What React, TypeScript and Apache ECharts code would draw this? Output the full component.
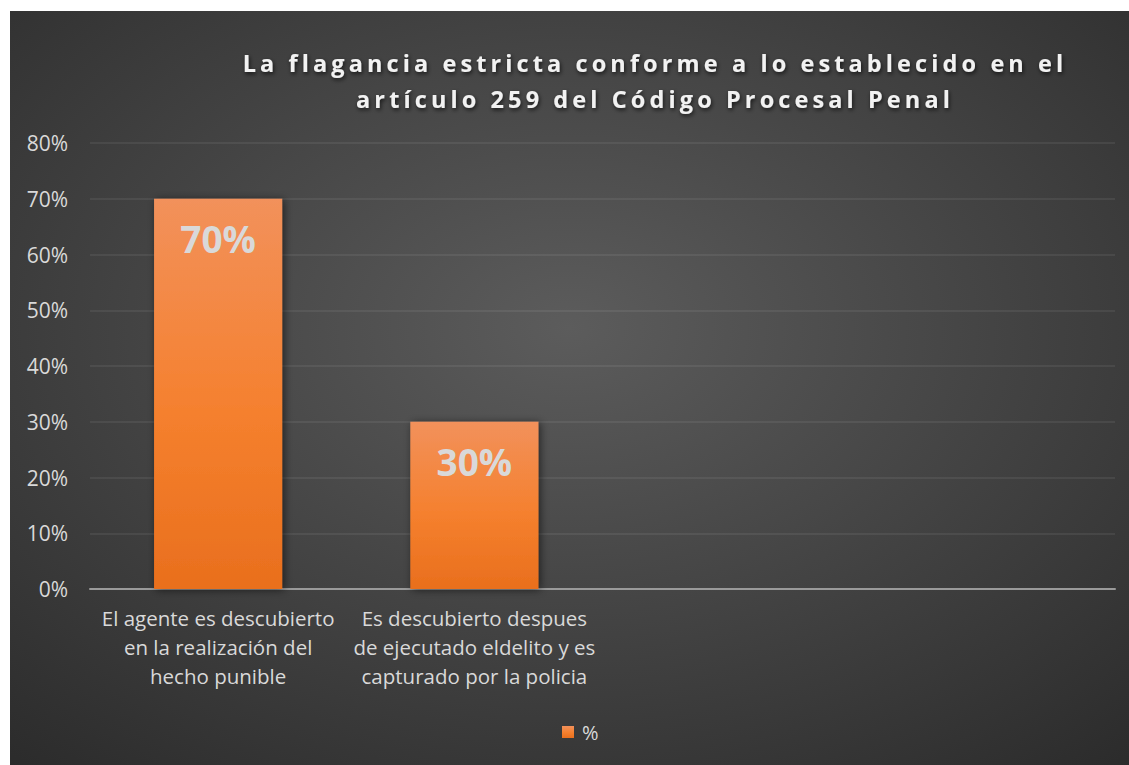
import React, { useEffect, useRef } from "react";
import * as echarts from "echarts";

const titleLines = [
  "La flagancia estricta conforme a lo establecido en el",
  "artículo 259 del Código Procesal Penal",
];
const categories = [
  "El agente es descubierto\nen la realización del\nhecho punible",
  "Es descubierto despues\nde ejecutado eldelito y es\ncapturado por la policia",
  "",
  "",
];
const seriesName = "%";
const values: (number | null)[] = [70, 30, null, null];
const yMin = 0;
const yMax = 80;
const yStep = 10;

const FONT = "'Open Sans', 'Noto Sans', sans-serif";

export default function App() {
  const ref = useRef<HTMLDivElement>(null);
  useEffect(() => {
    if (!ref.current) return;
    const chart = echarts.init(ref.current, undefined, { renderer: "svg" });
    chart.setOption({
      animation: false,
      backgroundColor: {
        type: "radial",
        x: 0.5,
        y: 0.42,
        r: 0.85,
        colorStops: [
          { offset: 0, color: "#5c5c5c" },
          { offset: 1, color: "#262626" },
        ],
      },
      title: {
        text: titleLines.join("\n"),
        left: 640,
        top: 29,
        textAlign: "center",
        textStyle: {
          color: "#f2f2f2",
          fontFamily: FONT,
          fontWeight: "bold",
          fontSize: 23.5,
          lineHeight: 36,
          textShadowColor: "rgba(0,0,0,0.7)",
          textShadowBlur: 4,
          textShadowOffsetX: 1,
          textShadowOffsetY: 2,
        },
      },
      legend: {
        data: [seriesName],
        left: 547,
        top: 706,
        icon: "rect",
        itemWidth: 12,
        itemHeight: 12,
        itemGap: 10,
        textStyle: { color: "#d9d9d9", fontSize: 20, fontFamily: FONT, padding: [0, 0, 0, 3] },
      },
      grid: { left: 80, right: 14, top: 132, bottom: 176, containLabel: false },
      xAxis: {
        type: "category",
        data: categories,
        axisTick: { show: false },
        axisLine: { show: true, lineStyle: { color: "#9a9a9a", width: 2 } },
        axisLabel: {
          color: "#d9d9d9",
          fontFamily: FONT,
          fontSize: 20.5,
          lineHeight: 29,
          margin: 14,
          interval: 0,
        },
      },
      yAxis: {
        type: "value",
        min: yMin,
        max: yMax,
        interval: yStep,
        axisLine: { show: false },
        axisTick: { show: false },
        splitLine: { lineStyle: { color: "rgba(255,255,255,0.09)", width: 1.5 } },
        axisLabel: {
          color: "#d9d9d9",
          fontFamily: FONT,
          fontSize: 21,
          margin: 22,
          formatter: (v: number) => `${v}%`,
        },
      },
      series: [
        {
          name: seriesName,
          type: "bar",
          data: values,
          barWidth: "50%",
          itemStyle: {
            color: new echarts.graphic.LinearGradient(0, 0, 0, 1, [
              { offset: 0, color: "#f2915b" },
              { offset: 0.55, color: "#f5802e" },
              { offset: 1, color: "#e96f1d" },
            ]),
            shadowColor: "rgba(0,0,0,0.55)",
            shadowBlur: 8,
            shadowOffsetX: 2,
            shadowOffsetY: 1,
          },
          label: {
            show: true,
            position: "insideTop",
            distance: 21,
            color: "#d9d9d9",
            fontFamily: FONT,
            fontWeight: "bold",
            fontSize: 37,
            lineHeight: 38,
            formatter: (p: any) => `${p.value}%`,
          },
        },
      ],
    });
    const applySpacing = () => {
      const el = ref.current;
      if (!el) return;
      el.querySelectorAll("text").forEach((t) => {
        if (titleLines.includes((t.textContent || "").trim())) {
          t.setAttribute("letter-spacing", "4.1px");
        }
      });
    };
    applySpacing();
    chart.on("finished", applySpacing);
    const timer = setTimeout(applySpacing, 50);
    return () => {
      clearTimeout(timer);
      chart.dispose();
    };
  }, []);
  return (
    <div
      ref={ref}
      style={{ position: "absolute", left: 10, top: 11, width: 1119, height: 754 }}
    />
  );
}
